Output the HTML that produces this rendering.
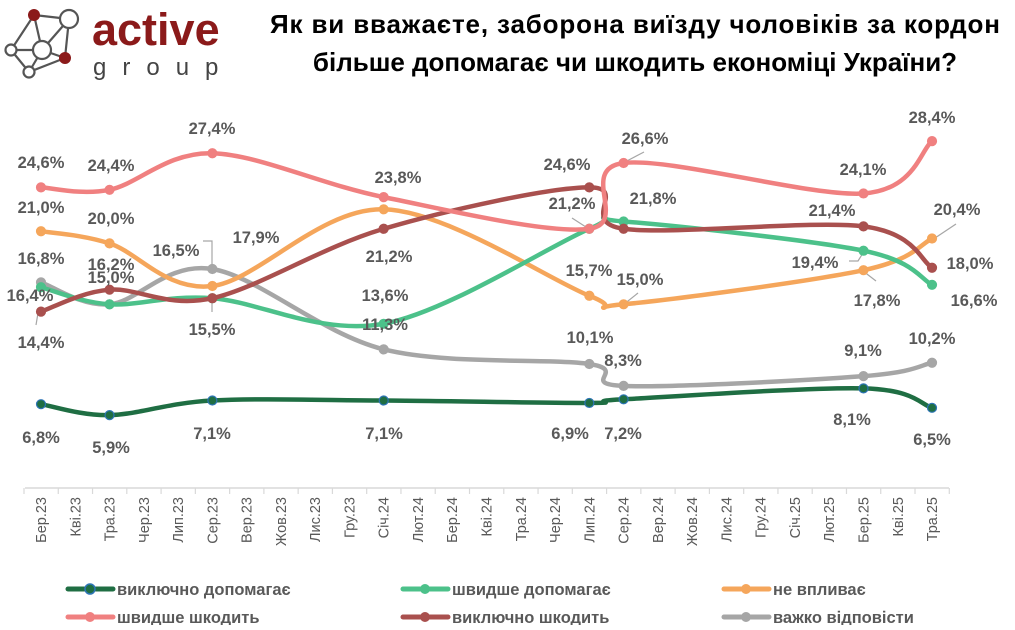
<!DOCTYPE html>
<html><head><meta charset="utf-8"><style>
body{margin:0;width:1015px;height:625px;background:#fff;overflow:hidden;font-family:"Liberation Sans",sans-serif}
svg text{font-family:"Liberation Sans","DejaVu Sans",sans-serif}
</style></head><body>
<svg id="s" width="1015" height="625" viewBox="0 0 1015 625" xmlns="http://www.w3.org/2000/svg">
<!-- logo -->
<g stroke="#555" stroke-width="2.2" fill="none">
<polyline points="34,15 69,19 65,58 29,72 11,50 34,15"/>
<line x1="34" y1="15" x2="42" y2="50"/><line x1="69" y1="19" x2="42" y2="50"/>
<line x1="11" y1="50" x2="42" y2="50"/><line x1="42" y1="50" x2="29" y2="72"/>
<line x1="42" y1="50" x2="65" y2="58"/>
</g>
<circle cx="34" cy="15" r="6" fill="#8b1a1a"/>
<circle cx="69" cy="19" r="9" fill="#fff" stroke="#555" stroke-width="2.2"/>
<circle cx="42" cy="50" r="9" fill="#fff" stroke="#555" stroke-width="2.2"/>
<circle cx="11" cy="50" r="5.5" fill="#fff" stroke="#555" stroke-width="2.2"/>
<circle cx="65" cy="58" r="6" fill="#8b1a1a"/>
<circle cx="29" cy="72" r="5.5" fill="#fff" stroke="#555" stroke-width="2.2"/>
<text x="92" y="45" font-size="45" font-weight="bold" fill="#8b1a1a">active</text>
<text x="93" y="75" font-size="24" fill="#444" letter-spacing="16">group</text>
<text x="635" y="33" font-size="26" font-weight="bold" text-anchor="middle" fill="#000" textLength="730">Як ви вважаєте, заборона виїзду чоловіків за кордон</text>
<text x="635" y="71" font-size="26" font-weight="bold" text-anchor="middle" fill="#000">більше допомагає чи шкодить економіці України?</text>
<g id="axis"></g>
<g stroke="#a6a6a6" stroke-width="1.2" fill="none">
<polyline points="203,241 212,241 212,269"/>
<line x1="212" y1="298" x2="212" y2="312"/>
<line x1="38" y1="313" x2="36" y2="325"/>
<line x1="572" y1="218" x2="589" y2="229"/>
<line x1="623" y1="163" x2="644" y2="152"/>
<line x1="623" y1="305" x2="638" y2="293"/>
<polyline points="849,261 858,261 863,253"/>
<line x1="863" y1="271" x2="876" y2="281"/>
<line x1="932" y1="240" x2="956" y2="224"/>
</g>
<g id="series"></g>
<g font-size="16.5" font-weight="bold" fill="#595959" text-anchor="middle">
<text x="41" y="168">24,6%</text><text x="111" y="171">24,4%</text><text x="212" y="134">27,4%</text>
<text x="398" y="183">23,8%</text><text x="567" y="170">24,6%</text><text x="645" y="144">26,6%</text>
<text x="863" y="175">24,1%</text><text x="932" y="123">28,4%</text>
<text x="41" y="213">21,0%</text><text x="111" y="224">20,0%</text><text x="176" y="256">16,5%</text>
<text x="256" y="243">17,9%</text><text x="389" y="262">21,2%</text><text x="572" y="209">21,2%</text>
<text x="653" y="204">21,8%</text><text x="832" y="216">21,4%</text><text x="957" y="215">20,4%</text>
<text x="41" y="264">16,8%</text><text x="111" y="270">16,2%</text><text x="111" y="283">15,0%</text>
<text x="30" y="301">16,4%</text><text x="41" y="348">14,4%</text><text x="212" y="335">15,5%</text>
<text x="385" y="301">13,6%</text><text x="385" y="330">11,3%</text><text x="589" y="276">15,7%</text>
<text x="640" y="285">15,0%</text><text x="877" y="306">17,8%</text><text x="815" y="268">19,4%</text>
<text x="970" y="269">18,0%</text><text x="974" y="306">16,6%</text>
<text x="590" y="343">10,1%</text><text x="623" y="366">8,3%</text><text x="863" y="356">9,1%</text>
<text x="932" y="344">10,2%</text>
<text x="41" y="443">6,8%</text><text x="111" y="453">5,9%</text><text x="212" y="439">7,1%</text>
<text x="384" y="439">7,1%</text><text x="570" y="439">6,9%</text><text x="623" y="439">7,2%</text>
<text x="852" y="425">8,1%</text><text x="932" y="445">6,5%</text>
</g>
<!-- legend -->
<g stroke-width="5" stroke-linecap="round" font-size="16.5" font-weight="bold" fill="#595959">
<line x1="68" y1="589" x2="113" y2="589" stroke="#1f6e43"/><circle cx="90" cy="589" r="5" fill="#1f6e43" stroke="#2e75b6" stroke-width="1.5"/><text x="117" y="595" stroke="none">виключно допомагає</text>
<line x1="403" y1="589" x2="448" y2="589" stroke="#4cc18a"/><circle cx="425" cy="589" r="5" fill="#4cc18a" stroke="none"/><text x="452" y="595" stroke="none">швидше допомагає</text>
<line x1="724" y1="589" x2="769" y2="589" stroke="#f5a65b"/><circle cx="746" cy="589" r="5" fill="#f5a65b" stroke="none"/><text x="773" y="595" stroke="none">не впливає</text>
<line x1="68" y1="617" x2="113" y2="617" stroke="#f08080"/><circle cx="90" cy="617" r="5" fill="#f08080" stroke="none"/><text x="117" y="623" stroke="none">швидше шкодить</text>
<line x1="403" y1="617" x2="448" y2="617" stroke="#a9504e"/><circle cx="425" cy="617" r="5" fill="#a9504e" stroke="none"/><text x="452" y="623" stroke="none">виключно шкодить</text>
<line x1="724" y1="617" x2="769" y2="617" stroke="#a6a6a6"/><circle cx="746" cy="617" r="5" fill="#a6a6a6" stroke="none"/><text x="773" y="623" stroke="none">важко відповісти</text>
</g>
</svg>
<script>
var NS="http://www.w3.org/2000/svg";
function el(t,a,p){var e=document.createElementNS(NS,t);for(var k in a)e.setAttribute(k,a[k]);p.appendChild(e);return e;}
var X0=41,DX=34.27;function X(i){return X0+i*DX}function Y(v){return 487-v*12.18}
var ax=document.getElementById('axis');
el('line',{x1:25,y1:488,x2:949,y2:488,stroke:'#d9d9d9','stroke-width':1.5},ax);
for(var i=0;i<=27;i++)el('line',{x1:24+i*DX,y1:488,x2:24+i*DX,y2:494,stroke:'#d9d9d9','stroke-width':1.2},ax);
var labs="Бер.23 Кві.23 Тра.23 Чер.23 Лип.23 Сер.23 Вер.23 Жов.23 Лис.23 Гру.23 Січ.24 Лют.24 Бер.24 Кві.24 Тра.24 Чер.24 Лип.24 Сер.24 Вер.24 Жов.24 Лис.24 Гру.24 Січ.25 Лют.25 Бер.25 Кві.25 Тра.25".split(' ');
labs.forEach(function(l,i){var t=el('text',{x:0,y:0,'font-size':14.5,fill:'#595959','text-anchor':'end',transform:'translate('+(X(i)+5)+',497) rotate(-90)'},ax);t.textContent=l;});
var idx=[0,2,5,10,16,17,24,26];
var S=[
['#a6a6a6',[16.8,15.0,17.9,11.3,10.1,8.3,9.1,10.2]],
['#f5a65b',[21.0,20.0,16.5,22.8,15.7,15.0,17.8,20.4]],
['#4cc18a',[16.4,15.0,15.5,13.4,21.2,21.8,19.4,16.6]],
['#a9504e',[14.4,16.2,15.5,21.2,24.6,21.2,21.4,18.0]],
['#f08080',[24.6,24.4,27.4,23.8,21.2,26.6,24.1,28.4]],
['#1f6e43',[6.8,5.9,7.1,7.1,6.9,7.2,8.1,6.5]]];
var g=document.getElementById('series');
S.forEach(function(s){var p=idx.map(function(i,k){return[X(i),Y(s[1][k])]});
var d='M'+p[0][0]+','+p[0][1];
for(var k=0;k<p.length-1;k++){var a=p[k-1]||p[k],b=p[k],c=p[k+1],e=p[k+2]||c,t=6;
d+=' C'+(b[0]+(c[0]-a[0])/t)+','+(b[1]+(c[1]-a[1])/t)+' '+(c[0]-(e[0]-b[0])/t)+','+(c[1]-(e[1]-b[1])/t)+' '+c[0]+','+c[1];}
el('path',{d:d,fill:'none',stroke:s[0],'stroke-width':4.5,'stroke-linecap':'round'},g);
p.forEach(function(q){el('circle',{cx:q[0],cy:q[1],r:4.5,fill:s[0],stroke:s[0]=='#1f6e43'?'#2e75b6':s[0],'stroke-width':1.2},g)});});
</script>
</body></html>
